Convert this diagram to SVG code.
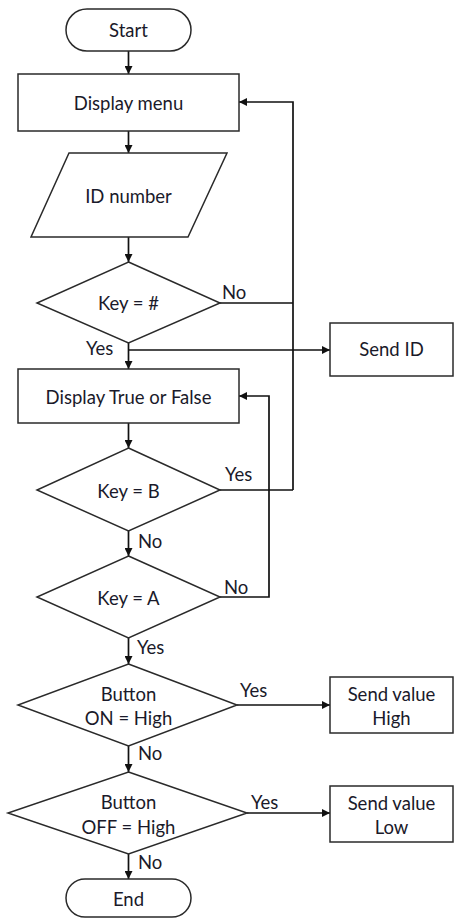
<svg xmlns="http://www.w3.org/2000/svg" width="454" height="919" viewBox="0 0 454 919">
<defs>
<marker id="ah" viewBox="0 0 10 10" refX="10" refY="5" markerWidth="8" markerHeight="8" markerUnits="userSpaceOnUse" orient="auto"><path d="M0,0 L10,5 L0,10 z" fill="#111"/></marker>
<style>
.s{fill:#fff;stroke:#2a2a2a;stroke-width:1.5}
.t{font-family:Lato,"Open Sans",sans-serif;font-size:18.5px;fill:#1a1a2a;text-anchor:middle;dominant-baseline:central}
.l{font-family:Lato,"Open Sans",sans-serif;font-size:18.5px;fill:#1a1a2a}
.c{fill:none;stroke:#111;stroke-width:1.7}
.a{marker-end:url(#ah)}
</style>
</defs>
<rect width="454" height="919" fill="#fff"/>
<g id="connectors">
<path class="c a" d="M128.5,51 V74"/>
<path class="c a" d="M128.5,131 V153"/>
<path class="c a" d="M128.5,237 V262"/>
<path class="c" d="M220,303 H293"/>
<path class="c a" d="M293,490 V102 H239"/>
<path class="c a" d="M128.5,343 V369"/>
<path class="c a" d="M128.5,350 H330"/>
<path class="c a" d="M128.5,423 V448"/>
<path class="c" d="M220,490 H293"/>
<path class="c a" d="M128.5,531 V556"/>
<path class="c a" d="M220,597 H269 V396 H239"/>
<path class="c a" d="M128.5,638 V664"/>
<path class="c a" d="M237,705 H330"/>
<path class="c a" d="M128.5,746 V772"/>
<path class="c a" d="M247,813 H330"/>
<path class="c a" d="M128.5,854 V879"/>
<text class="l" x="222" y="299">No</text>
<text class="l" x="86" y="355">Yes</text>
<text class="l" x="225" y="481">Yes</text>
<text class="l" x="138" y="548">No</text>
<text class="l" x="224" y="594">No</text>
<text class="l" x="137" y="654">Yes</text>
<text class="l" x="240" y="697">Yes</text>
<text class="l" x="138" y="760">No</text>
<text class="l" x="251" y="809">Yes</text>
<text class="l" x="138" y="869">No</text>
</g>
<g id="start"><rect class="s" x="66" y="9" width="125" height="42" rx="21"/><text class="t" x="128.5" y="30">Start</text></g>
<g id="display-menu"><rect class="s" x="18" y="74" width="221" height="57"/><text class="t" x="128.5" y="103">Display menu</text></g>
<g id="id-number"><polygon class="s" points="69,153 227,153 188,237 31,237"/><text class="t" x="128.5" y="196">ID number</text></g>
<g id="key-hash"><polygon class="s" points="128.5,262 220,303 128.5,343 37,303"/><text class="t" x="128.5" y="303">Key = #</text></g>
<g id="send-id"><rect class="s" x="330" y="323" width="123" height="53"/><text class="t" x="391.5" y="349">Send ID</text></g>
<g id="display-tf"><rect class="s" x="18" y="369" width="221" height="54"/><text class="t" x="128.5" y="397">Display True or False</text></g>
<g id="key-b"><polygon class="s" points="128.5,448 220,490 128.5,531 37,490"/><text class="t" x="128.5" y="491">Key = B</text></g>
<g id="key-a"><polygon class="s" points="128.5,556 220,597 128.5,638 37,597"/><text class="t" x="128.5" y="598">Key = A</text></g>
<g id="button-on"><polygon class="s" points="128.5,664 237,705 128.5,746 18,705"/><text class="t" x="128.5" y="694">Button</text><text class="t" x="128.5" y="718">ON = High</text></g>
<g id="send-high"><rect class="s" x="330" y="677" width="123" height="56"/><text class="t" x="391.5" y="694">Send value</text><text class="t" x="391.5" y="718">High</text></g>
<g id="button-off"><polygon class="s" points="128.5,772 247,813 128.5,854 8,813"/><text class="t" x="128.5" y="802">Button</text><text class="t" x="128.5" y="827">OFF = High</text></g>
<g id="send-low"><rect class="s" x="330" y="786" width="123" height="56"/><text class="t" x="391.5" y="803">Send value</text><text class="t" x="391.5" y="827">Low</text></g>
<g id="end"><rect class="s" x="66" y="879" width="125" height="38" rx="19"/><text class="t" x="128.5" y="899">End</text></g>
</svg>
